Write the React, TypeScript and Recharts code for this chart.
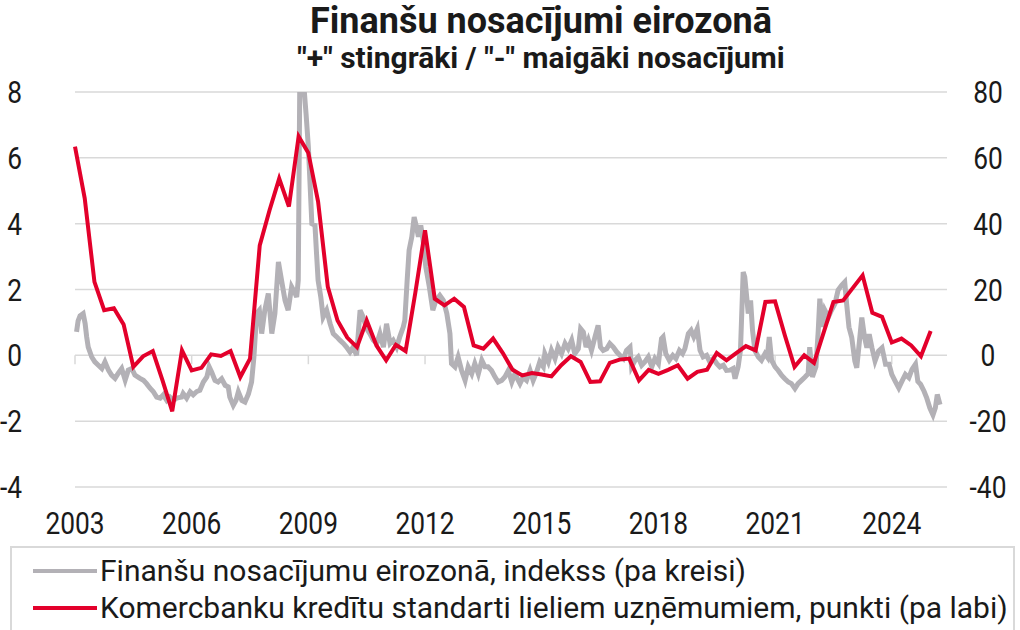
import { CartesianGrid, Line, LineChart, ReferenceLine, XAxis, YAxis } from "recharts";

// tick labels of the original use a condensed face; Roboto is squeezed a bit to match
const FONT = "Roboto, 'Noto Sans', sans-serif";
const TICK_SQUEEZE = 0.85;

const TITLE = "Finanšu nosacījumi eirozonā";
const SUBTITLE = "\"+\" stingrāki / \"-\" maigāki nosacījumi";
const FCI_NAME = "Finanšu nosacījumu eirozonā, indekss (pa kreisi)";
const LENDING_NAME = "Komercbanku kredītu standarti lieliem uzņēmumiem, punkti (pa labi)";

const GREY = "#b3b1b6";
const RED = "#e3002b";
const GRID = "#d9d9d9";

const yearTicks = [2003, 2006, 2009, 2012, 2015, 2018, 2021, 2024];
const leftTicks = [-4, -2, 0, 2, 4, 6, 8];
const rightTicks = [-40, -20, 0, 20, 40, 60, 80];

// financial conditions index, [decimal year, value], left axis
const fciIndex: [number, number][] = [
  [2003.04, 0.71], [2003.08, 1.05], [2003.13, 1.2], [2003.21, 1.27], [2003.26, 0.97], [2003.3, 0.56],
  [2003.34, 0.25], [2003.43, -0.05], [2003.51, -0.2], [2003.6, -0.3], [2003.69, -0.4], [2003.77, -0.2],
  [2003.86, -0.45], [2003.94, -0.6], [2004.03, -0.7], [2004.11, -0.55], [2004.2, -0.4], [2004.29, -0.75],
  [2004.37, -0.45], [2004.46, -0.4], [2004.54, -0.6], [2004.67, -0.7], [2004.76, -0.76], [2004.84, -0.86],
  [2004.93, -1.0], [2005.01, -1.1], [2005.1, -1.27], [2005.19, -1.3], [2005.27, -1.2], [2005.36, -1.37],
  [2005.44, -1.27], [2005.53, -1.37], [2005.61, -1.3], [2005.74, -1.27], [2005.78, -1.16], [2005.87, -1.3],
  [2005.96, -1.11], [2006.04, -1.2], [2006.13, -1.1], [2006.21, -1.06], [2006.3, -0.81], [2006.39, -0.66],
  [2006.45, -0.35], [2006.51, -0.5], [2006.6, -0.76], [2006.68, -0.81], [2006.77, -0.71], [2006.86, -0.91],
  [2006.94, -0.96], [2006.98, -1.27], [2007.07, -1.52], [2007.14, -1.37], [2007.2, -1.11], [2007.29, -1.37],
  [2007.37, -1.42], [2007.46, -1.17], [2007.54, -0.81], [2007.6, -0.05], [2007.67, 1.27], [2007.74, 1.37],
  [2007.8, 0.66], [2007.88, 1.37], [2007.97, 1.88], [2008.06, 0.66], [2008.14, 1.27], [2008.23, 2.84],
  [2008.31, 2.28], [2008.4, 1.67], [2008.48, 1.37], [2008.57, 2.08], [2008.66, 1.88], [2008.7, 1.77],
  [2008.74, 2.28], [2008.78, 8.4], [2008.87, 8.4], [2008.94, 7.35], [2009.0, 6.33], [2009.04, 5.3],
  [2009.09, 4.0], [2009.17, 3.95], [2009.21, 3.1], [2009.25, 2.28], [2009.32, 1.77], [2009.38, 1.16],
  [2009.47, 1.37], [2009.56, 0.96], [2009.64, 0.66], [2009.73, 0.56], [2009.81, 0.46], [2009.9, 0.36],
  [2009.98, 0.25], [2010.07, 0.1], [2010.15, 0.25], [2010.24, 0.0], [2010.33, 1.37], [2010.41, 1.16],
  [2010.5, 0.81], [2010.58, 0.66], [2010.67, 0.46], [2010.76, 0.36], [2010.84, 0.66], [2010.93, 0.25],
  [2011.01, 0.96], [2011.1, 0.36], [2011.18, 0.46], [2011.27, 0.25], [2011.35, 0.56], [2011.44, 0.86],
  [2011.48, 1.06], [2011.54, 2.28], [2011.59, 3.19], [2011.66, 3.6], [2011.72, 4.2], [2011.78, 3.9],
  [2011.83, 3.6], [2011.89, 3.95], [2011.95, 3.5], [2012.02, 2.68], [2012.11, 2.08], [2012.2, 1.37],
  [2012.28, 1.67], [2012.38, 1.82], [2012.47, 1.67], [2012.56, 1.27], [2012.64, 0.66], [2012.68, -0.25],
  [2012.77, -0.35], [2012.85, -0.05], [2012.94, -0.46], [2013.03, -0.76], [2013.11, -0.35], [2013.2, -0.56],
  [2013.28, -0.25], [2013.37, -0.56], [2013.46, -0.15], [2013.54, -0.35], [2013.62, -0.35], [2013.71, -0.46],
  [2013.8, -0.66], [2013.88, -0.81], [2013.97, -0.76], [2014.05, -0.66], [2014.14, -0.46], [2014.23, -0.81],
  [2014.31, -0.56], [2014.44, -0.86], [2014.52, -0.66], [2014.61, -0.76], [2014.7, -0.46], [2014.78, -0.76],
  [2014.87, -0.5], [2014.95, -0.2], [2015.04, -0.35], [2015.08, 0.05], [2015.17, -0.2], [2015.25, 0.15],
  [2015.34, -0.1], [2015.42, 0.25], [2015.51, 0.05], [2015.6, 0.36], [2015.68, 0.2], [2015.77, 0.46],
  [2015.85, 0.05], [2015.94, 0.2], [2016.0, 0.81], [2016.07, 0.71], [2016.14, 0.25], [2016.2, 0.46],
  [2016.28, 0.15], [2016.37, 0.56], [2016.45, 0.91], [2016.51, 0.25], [2016.58, 0.15], [2016.67, 0.2],
  [2016.75, 0.36], [2016.84, 0.25], [2016.93, 0.1], [2017.01, 0.0], [2017.1, -0.1], [2017.18, 0.15],
  [2017.27, 0.25], [2017.31, -0.35], [2017.4, -0.15], [2017.48, -0.05], [2017.57, -0.3], [2017.65, -0.2],
  [2017.74, -0.05], [2017.83, -0.35], [2017.91, -0.1], [2018.0, -0.25], [2018.08, 0.51], [2018.12, 0.56],
  [2018.19, 0.05], [2018.28, -0.15], [2018.37, 0.0], [2018.45, -0.1], [2018.54, 0.15], [2018.62, 0.05],
  [2018.68, 0.2], [2018.77, 0.66], [2018.84, 0.76], [2018.91, 0.56], [2019.0, 0.81], [2019.07, 0.15],
  [2019.15, -0.05], [2019.24, 0.0], [2019.32, -0.2], [2019.41, -0.1], [2019.5, -0.25], [2019.58, -0.35],
  [2019.67, -0.3], [2019.75, -0.46], [2019.84, -0.45], [2019.92, -0.4], [2019.97, -0.71], [2020.05, -0.35],
  [2020.11, 0.15], [2020.18, 2.53], [2020.22, 2.38], [2020.27, 1.77], [2020.31, 1.27], [2020.37, 1.67],
  [2020.42, 0.76], [2020.48, 0.15], [2020.57, -0.05], [2020.65, -0.15], [2020.74, 0.05], [2020.8, -0.05],
  [2020.85, 0.56], [2020.91, -0.15], [2021.0, -0.35], [2021.08, -0.46], [2021.17, -0.61], [2021.25, -0.71],
  [2021.34, -0.81], [2021.42, -0.86], [2021.51, -1.01], [2021.59, -0.86], [2021.68, -0.76], [2021.77, -0.66],
  [2021.85, -0.56], [2021.89, 0.25], [2021.96, -0.66], [2022.05, -0.35], [2022.11, 0.76], [2022.15, 1.72],
  [2022.22, 0.86], [2022.28, 1.37], [2022.37, 1.16], [2022.45, 1.37], [2022.54, 1.57], [2022.62, 1.98],
  [2022.71, 2.13], [2022.79, 2.23], [2022.84, 1.56], [2022.9, 0.85], [2022.97, 0.55], [2023.05, -0.17],
  [2023.1, -0.38], [2023.17, 0.44], [2023.23, 1.15], [2023.3, 0.55], [2023.36, 0.23], [2023.42, 0.64],
  [2023.49, 0.23], [2023.57, -0.17], [2023.66, 0.13], [2023.75, 0.23], [2023.84, -0.27], [2023.93, -0.27],
  [2024.0, -0.58], [2024.09, -0.79], [2024.18, -0.99], [2024.26, -0.79], [2024.35, -0.58], [2024.44, -0.68],
  [2024.52, -0.43], [2024.61, -0.27], [2024.67, -0.79], [2024.74, -0.88], [2024.83, -1.09], [2024.9, -1.3],
  [2024.98, -1.6], [2025.06, -1.81], [2025.12, -1.6], [2025.17, -1.19], [2025.24, -1.5],
];

// bank lending standards, quarterly from 2003 Q1, right axis
const lendingStart = 2003;
const lendingStandards = [
  63.4, 47.7, 22.3, 13.7, 14.3, 9.4, -3.5, -0.3, 1.3, -7.6, -17, 1.5,
  -4.6, -3.8, 0.3, -0.2, 1.3, -6.6, -1, 33.4, 44, 53.7, 45.2, 66.5,
  61.5, 46.7, 20.8, 10.6, 5.4, 2.5, 10.6, 3, -1.5, 3.2, 1.3, 19,
  38, 17.2, 15.2, 17.2, 14.7, 3, 2, 5.1, 0.7, -4.4, -6.1, -5.4,
  -5.8, -6.4, -3, -0.3, -2, -8.1, -7.9, -2.3, -1.3, -1, -7.6, -4.4,
  -5.6, -4.4, -3, -7.1, -5, -4.4, 0.7, -1.5, 0.7, 2.8, 1.5, 16.2,
  16.4, 6.1, -3.5, 0, -2.3, 7, 16.2, 16.7, 20.5, 24.3, 12.9, 11.7,
  3.9, 5.1, 3, -0.3, 7.4,
];

const fciData = fciIndex.map(([t, v]) => ({ t, fci: v }));
const lendingData = lendingStandards.map((v, i) => ({ t: lendingStart + i / 4, lending: v }));

const legendItems = [
  { name: FCI_NAME, color: GREY },
  { name: LENDING_NAME, color: RED },
];

function NarrowTick(props: any) {
  const { x, y, payload, anchor } = props;
  return (
    <g transform={`translate(${x},${y})`}>
      <text
        transform={`scale(${TICK_SQUEEZE},1)`}
        textAnchor={anchor}
        dy="0.36em"
        fill="#1a1a1a"
        fontSize={31}
        fontFamily={FONT}
      >
        {payload.value}
      </text>
    </g>
  );
}

export default function App() {
  return (
    <div
      style={{
        position: "absolute",
        left: 0,
        top: 0,
        width: 1020,
        height: 630,
        overflow: "hidden",
        background: "#fff",
        fontFamily: FONT,
        color: "#1a1a1a",
      }}
    >
      <LineChart width={1020} height={630} margin={{ top: 92, right: 0, bottom: 90, left: 0 }}>
        <CartesianGrid yAxisId="left" vertical={false} stroke={GRID} strokeWidth={1.5} />
        <XAxis
          dataKey="t"
          type="number"
          domain={[2003, 2025.42]}
          ticks={yearTicks}
          interval={0}
          height={53}
          axisLine={false}
          tickLine={false}
          tickSize={0}
          tickMargin={36}
          tick={(p: any) => <NarrowTick {...p} anchor="middle" />}
        />
        <YAxis
          yAxisId="left"
          width={75}
          domain={[-4, 8]}
          ticks={leftTicks}
          allowDataOverflow
          axisLine={false}
          tickLine={false}
          tickSize={0}
          tickMargin={53}
          tick={(p: any) => <NarrowTick {...p} anchor="end" />}
        />
        <YAxis
          yAxisId="right"
          orientation="right"
          width={73}
          domain={[-40, 80]}
          ticks={rightTicks}
          axisLine={false}
          tickLine={false}
          tickSize={0}
          tickMargin={41}
          tick={(p: any) => <NarrowTick {...p} anchor="middle" />}
        />
        {yearTicks.map((yr) => (
          <ReferenceLine
            key={yr}
            yAxisId="left"
            segment={[
              { x: yr, y: 0 },
              { x: yr, y: -0.27 },
            ]}
            stroke={GRID}
            strokeWidth={1.5}
          />
        ))}
        <Line
          yAxisId="left"
          data={fciData}
          dataKey="fci"
          type="linear"
          stroke={GREY}
          strokeWidth={5}
          dot={false}
          isAnimationActive={false}
        />
        <Line
          yAxisId="right"
          data={lendingData}
          dataKey="lending"
          type="linear"
          stroke={RED}
          strokeWidth={4}
          dot={false}
          isAnimationActive={false}
        />
      </LineChart>

      <div style={{ position: "absolute", left: 241, top: 3, width: 600, textAlign: "center", fontSize: 36, fontWeight: 700, lineHeight: 1, whiteSpace: "nowrap" }}>
        {TITLE}
      </div>
      <div style={{ position: "absolute", left: 241, top: 43, width: 600, textAlign: "center", fontSize: 30, fontWeight: 700, lineHeight: 1, whiteSpace: "nowrap" }}>
        {SUBTITLE}
      </div>

      <div
        style={{
          position: "absolute",
          left: 10,
          top: 546,
          width: 1005,
          height: 100,
          border: `2px solid ${GRID}`,
          boxSizing: "border-box",
          background: "#fff",
        }}
      >
        {legendItems.map((item, i) => (
          <div key={item.name} style={{ position: "absolute", left: 0, top: 8 + i * 37, height: 30, width: 1000 }}>
            <div style={{ position: "absolute", left: 21, top: 13, width: 64, height: 4, background: item.color }} />
            <div style={{ position: "absolute", left: 88, top: 0, fontSize: 30, lineHeight: "30px", whiteSpace: "nowrap" }}>
              {item.name}
            </div>
          </div>
        ))}
      </div>
    </div>
  );
}
